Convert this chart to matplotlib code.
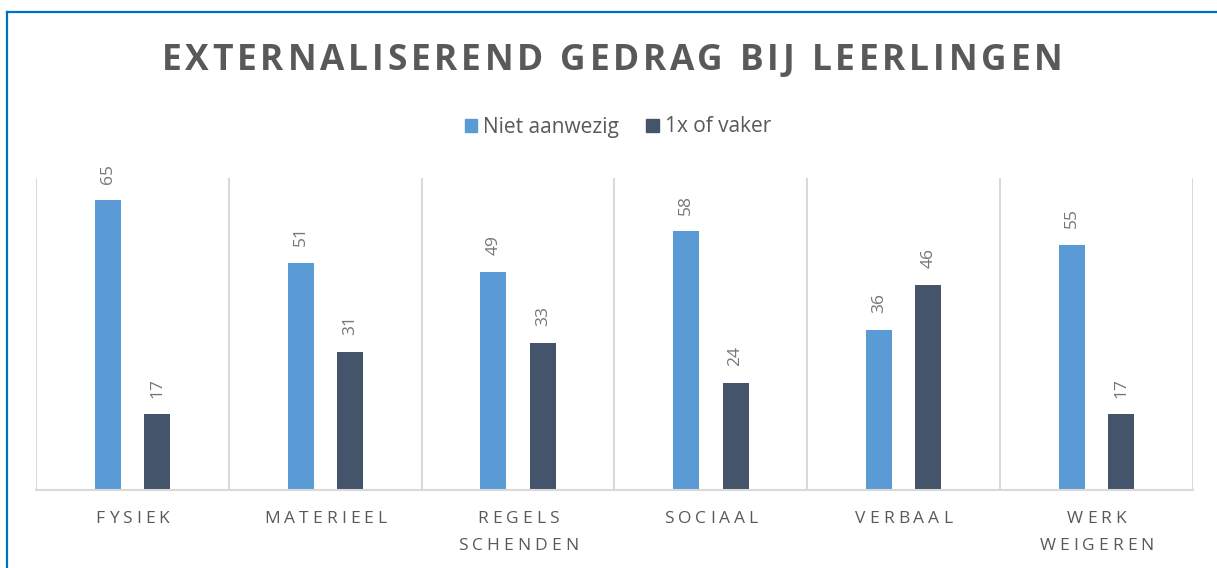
import matplotlib.pyplot as plt
from matplotlib.patches import Patch
from matplotlib.lines import Line2D
import numpy as np

# data
categories = ['FYSIEK', 'MATERIEEL', 'REGELS\nSCHENDEN', 'SOCIAAL', 'VERBAAL', 'WERK\nWEIGEREN']
niet_aanwezig = [65, 51, 49, 58, 36, 55]
vaker = [17, 31, 33, 24, 46, 17]
series_names = ['Niet aanwezig', '1x of vaker']
title = 'EXTERNALISEREND GEDRAG BIJ LEERLINGEN'

BLUE = '#5B9BD5'
DARK = '#44546A'
GREY_TXT = '#595959'
GRID = '#D9D9D9'

plt.rcParams['font.family'] = ['Open Sans', 'DejaVu Sans']

W, H = 1217, 568
fig = plt.figure(figsize=(W / 100, H / 100), dpi=100)
renderer = fig.canvas.get_renderer()


def text_width(s, **kw):
    t = fig.text(0, 0, s, **kw)
    w = t.get_window_extent(renderer).width
    t.remove()
    return w


def spaced_text(s, cx, cy, spacing, **kw):
    """draw text with extra letter spacing, centred at pixel (cx, cy)"""
    lefts = []
    for i, ch in enumerate(s):
        lefts.append(text_width(s[:i + 1], **kw) - text_width(ch, **kw) if ch != ' ' else None)
    full = text_width(s, **kw) + spacing * (len(s) - 1)
    x0 = cx - full / 2
    for i, ch in enumerate(s):
        if ch == ' ':
            continue
        fig.text((x0 + lefts[i] + spacing * i) / W, 1 - cy / H, ch,
                 ha='left', va='center', **kw)


ax = fig.add_axes([36 / W, 1 - 490 / H, (1193 - 36) / W, (490 - 178) / H])
x = np.arange(len(categories))
bw = 0.135
b1 = ax.bar(x - 0.128, niet_aanwezig, bw, color=BLUE, label=series_names[0])
b2 = ax.bar(x + 0.128, vaker, bw, color=DARK, label=series_names[1])
for bars in (b1, b2):
    ax.bar_label(bars, rotation=90, padding=12, fontsize=12.5, color='#767676')

ax.set_xlim(-0.5, len(categories) - 0.5)
ax.set_ylim(0, 70)
ax.set_yticks([])
ax.set_xticks([])
ax.set_xticks(np.arange(len(categories) + 1) - 0.5, minor=True)
ax.tick_params(which='minor', length=0)
ax.grid(True, which='minor', axis='x', color=GRID, lw=1.5)
for side in ['left', 'right', 'top']:
    ax.spines[side].set_visible(False)
ax.spines['bottom'].set_color(GRID)
ax.spines['bottom'].set_linewidth(1.5)
ax.set_axisbelow(True)

# category labels, letter spaced
fig.canvas.draw()
for i, cat in enumerate(categories):
    cx = ax.transData.transform((i, 0))[0]
    lines = cat.split('\n')
    for j, line in enumerate(lines):
        spaced_text(line, cx, 519 + 27 * j, 4.0, fontsize=12.5, color=GREY_TXT)

spaced_text(title, 612, 61, 3.8, fontsize=25.5, fontweight='bold', color=GREY_TXT)

handles = [Patch(color=BLUE), Patch(color=DARK)]
fig.legend(handles, series_names, loc='center', bbox_to_anchor=(618 / W, 1 - 127 / H),
           ncol=2, frameon=False, fontsize=15, labelcolor=GREY_TXT,
           handlelength=0.6, handleheight=0.6, handletextpad=0.3, columnspacing=1.3)

# blue frame of the chart area (cropped on the right and bottom)
fig.add_artist(Line2D([7 / W, 7 / W], [0, 1 - 12 / H], color='#0070C0', lw=1.6))
fig.add_artist(Line2D([7 / W, 1], [1 - 12 / H, 1 - 12 / H], color='#0070C0', lw=1.6))

fig.savefig('out.png', dpi=100)
